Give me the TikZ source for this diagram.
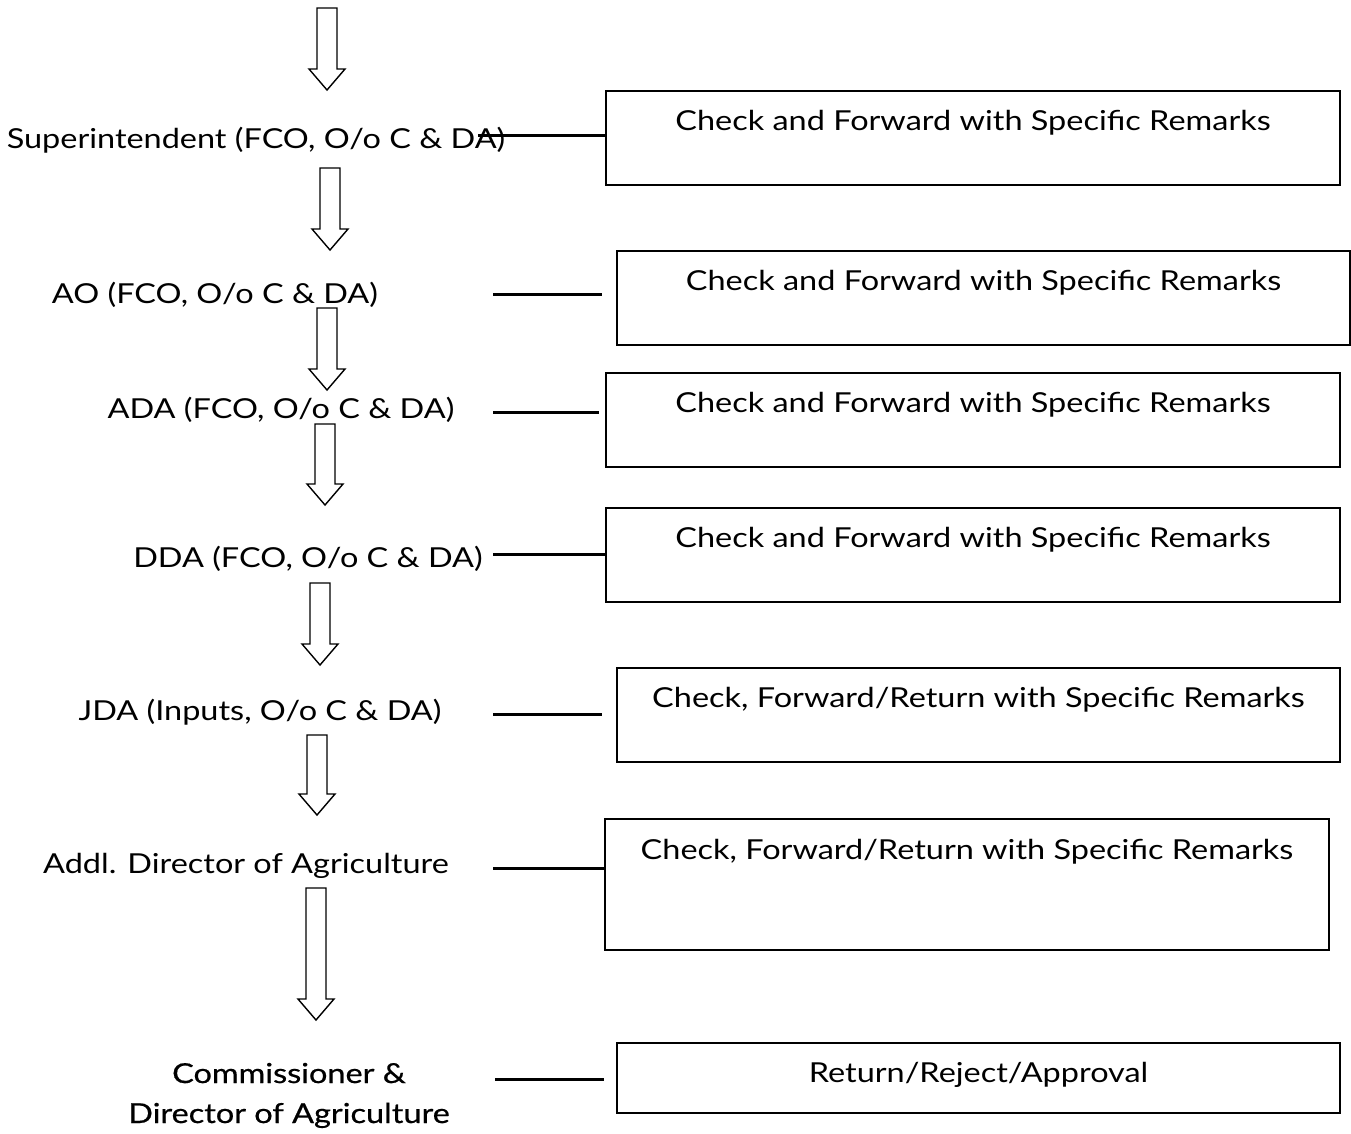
\documentclass[tikz,border=0pt]{standalone}
\usepackage{fontspec}
\setmainfont{Lato}[FakeStretch=1.18]
\newfontfamily\headfont{Lato}[FakeStretch=1.18,FakeBold=0.6]
\begin{document}
\begin{tikzpicture}[x=1pt,y=-1pt,
  lbl/.style={font=\fontsize{27.5}{32}\selectfont, inner sep=0pt, anchor=base},
  headlbl/.style={font=\headfont\fontsize{27.5}{32}\selectfont, inner sep=0pt, anchor=base},
  remarkbox/.style={draw, line width=1.6pt, inner sep=0pt},
  remark/.style={font=\fontsize{27.5}{32}\selectfont, inner sep=0pt, anchor=base},
  link/.style={line width=3pt},
  blk/.style={draw, line width=1.4pt, fill=white, line join=miter}]
\useasboundingbox (0,0) rectangle (1351,1133);

% hollow block arrow pointing down: centre x, top y, bottom y
\newcommand\dnarrow[3]{%
  \draw[blk] ({#1-10},#2) -- ({#1+10},#2) -- ({#1+10},{#3-21}) -- ({#1+18},{#3-21})
    -- (#1,#3) -- ({#1-18},{#3-21}) -- ({#1-10},{#3-21}) -- cycle;}

% officers
\node[lbl] (s1) at (256,148) {Superintendent (FCO, O/o C \& DA)};
\node[lbl] (s2) at (215,303) {AO (FCO, O/o C \& DA)};
\node[lbl] (s3) at (281,418) {ADA (FCO, O/o C \& DA)};
\node[lbl] (s4) at (308,567) {DDA (FCO, O/o C \& DA)};
\node[lbl] (s5) at (260,720) {JDA (Inputs, O/o C \& DA)};
\node[lbl] (s6) at (246,873) {Addl. Director of Agriculture};
\node[headlbl] (s7a) at (289,1083) {Commissioner \&};
\node[headlbl] (s7b) at (289,1123) {Director of Agriculture};

% flow arrows
\dnarrow{327}{8}{90}
\dnarrow{330}{168}{250}
\dnarrow{327}{308}{390}
\dnarrow{325}{424}{505}
\dnarrow{320}{583}{665}
\dnarrow{317}{735}{815}
\dnarrow{316}{888}{1020}

% remark boxes
\node[remarkbox, minimum width=734, minimum height=94] (b1) at (973,138) {};
\node[remarkbox, minimum width=733, minimum height=94] (b2) at (983.5,298) {};
\node[remarkbox, minimum width=734, minimum height=94] (b3) at (973,420) {};
\node[remarkbox, minimum width=734, minimum height=94] (b4) at (973,555) {};
\node[remarkbox, minimum width=723, minimum height=94] (b5) at (978.5,715) {};
\node[remarkbox, minimum width=724, minimum height=131] (b6) at (967,884.5) {};
\node[remarkbox, minimum width=723, minimum height=70] (b7) at (978.5,1078) {};

\node[remark] (t1) at ([yshift=-40pt]b1.north) {Check and Forward with Specific Remarks};
\node[remark] (t2) at ([yshift=-40pt]b2.north) {Check and Forward with Specific Remarks};
\node[remark] (t3) at ([yshift=-40pt]b3.north) {Check and Forward with Specific Remarks};
\node[remark] (t4) at ([yshift=-40pt]b4.north) {Check and Forward with Specific Remarks};
\node[remark] (t5) at ([yshift=-40pt]b5.north) {Check, Forward/Return with Specific Remarks};
\node[remark] (t6) at ([yshift=-41pt]b6.north) {Check, Forward/Return with Specific Remarks};
\node[remark] (t7) at ([yshift=-40pt]b7.north) {Return/Reject/Approval};

% connectors from officers to their remark boxes
\coordinate (c1) at (478,135);
\coordinate (c2) at (493,294);
\coordinate (c3) at (493,412);
\coordinate (c4) at (493,554);
\coordinate (c5) at (493,714);
\coordinate (c6) at (493,868);
\coordinate (c7) at (495,1079);
\draw[link] (c1) -- (c1 -| b1.west);
\draw[link] (c2) -- ([xshift=-14pt]c2 -| b2.west);
\draw[link] (c3) -- ([xshift=-6pt]c3 -| b3.west);
\draw[link] (c4) -- (c4 -| b4.west);
\draw[link] (c5) -- ([xshift=-14pt]c5 -| b5.west);
\draw[link] (c6) -- (c6 -| b6.west);
\draw[link] (c7) -- ([xshift=-12pt]c7 -| b7.west);
\end{tikzpicture}
\end{document}
